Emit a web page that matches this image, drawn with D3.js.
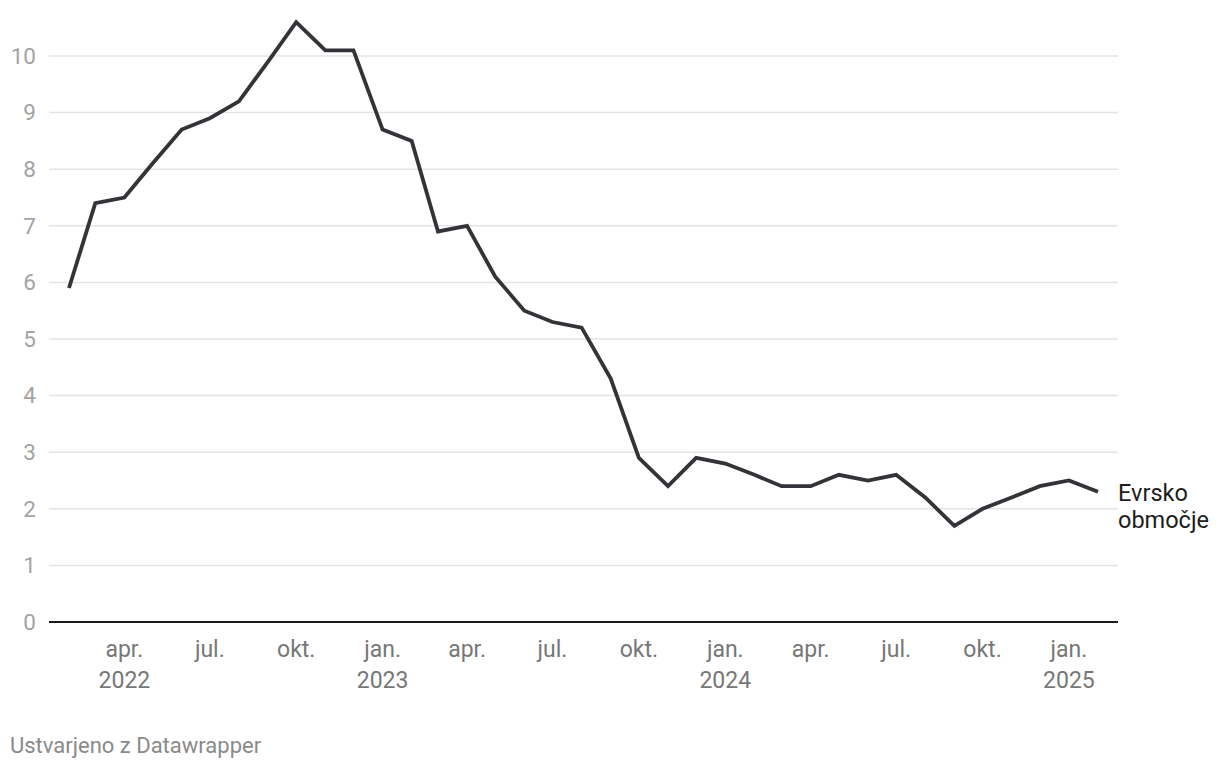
<!DOCTYPE html>
<html>
<head>
<meta charset="utf-8">
<script src="https://cdn.jsdelivr.net/npm/d3@7"></script>
<style>
  body { margin: 0; background: #fff; font-family: Roboto, "Noto Sans", sans-serif; }
</style>
</head>
<body>
<div id="viz"></div>
<script>
// monthly values, Feb 2022 - Feb 2025
var months = ["2022-02","2022-03","2022-04","2022-05","2022-06","2022-07","2022-08","2022-09","2022-10","2022-11","2022-12",
              "2023-01","2023-02","2023-03","2023-04","2023-05","2023-06","2023-07","2023-08","2023-09","2023-10","2023-11","2023-12",
              "2024-01","2024-02","2024-03","2024-04","2024-05","2024-06","2024-07","2024-08","2024-09","2024-10","2024-11","2024-12",
              "2025-01","2025-02"];
var values = [5.9, 7.4, 7.5, 8.1, 8.7, 8.9, 9.2, 9.9, 10.6, 10.1, 10.1,
              8.7, 8.5, 6.9, 7.0, 6.1, 5.5, 5.3, 5.2, 4.3, 2.9, 2.4, 2.9,
              2.8, 2.6, 2.4, 2.4, 2.6, 2.5, 2.6, 2.2, 1.7, 2.0, 2.2, 2.4,
              2.5, 2.3];
var seriesName = ["Evrsko", "območje"];
var yTicks = [0, 1, 2, 3, 4, 5, 6, 7, 8, 9, 10];
var xTicks = ["2022-04","2022-07","2022-10","2023-01","2023-04","2023-07","2023-10","2024-01","2024-04","2024-07","2024-10","2025-01"];
var monthNames = {1: "jan.", 4: "apr.", 7: "jul.", 10: "okt."};
var credit = "Ustvarjeno z Datawrapper";

var W = 1220, H = 768;
var parse = d3.timeParse("%Y-%m");
var data = months.map(function(m, i) { return {date: parse(m), value: values[i]}; });

var svg = d3.select("#viz").append("svg")
  .attr("width", W)
  .attr("height", H);

var x = d3.scaleTime()
  .domain([parse("2022-02"), parse("2025-02")])
  .range([69, 1098]);

var y = d3.scaleLinear()
  .domain([0, 10])
  .range([622, 56]);

var gridLeft = 49, gridRight = 1118;

// gridlines
svg.append("g").selectAll("line")
  .data(yTicks.filter(function(d) { return d > 0; }))
  .join("line")
  .attr("x1", gridLeft).attr("x2", gridRight)
  .attr("y1", function(d) { return y(d); })
  .attr("y2", function(d) { return y(d); })
  .attr("stroke", "#e4e4e4")
  .attr("stroke-width", 1.5);

// y labels
svg.append("g").selectAll("text")
  .data(yTicks)
  .join("text")
  .attr("x", 36)
  .attr("y", function(d) { return y(d); })
  .attr("dy", "0.35em")
  .attr("text-anchor", "end")
  .attr("fill", "#a3a3a3")
  .style("font-size", "22.5px")
  .text(function(d) { return d; });

// baseline
svg.append("line")
  .attr("x1", gridLeft).attr("x2", gridRight)
  .attr("y1", y(0)).attr("y2", y(0))
  .attr("stroke", "#1a1a1a")
  .attr("stroke-width", 2);

// x labels
var xg = svg.append("g").selectAll("g")
  .data(xTicks.map(parse))
  .join("g")
  .attr("transform", function(d) { return "translate(" + x(d) + ",0)"; });

xg.append("text")
  .attr("y", 657)
  .attr("text-anchor", "middle")
  .attr("fill", "#777")
  .style("font-size", "23px")
  .text(function(d) { return monthNames[d.getMonth() + 1]; });

xg.filter(function(d, i) { return i === 0 || d.getMonth() === 0; })
  .append("text")
  .attr("y", 688)
  .attr("text-anchor", "middle")
  .attr("fill", "#777")
  .style("font-size", "23px")
  .text(function(d) { return d.getFullYear(); });

// the line
svg.append("path").datum(data)
  .attr("fill", "none")
  .attr("stroke", "#333338")
  .attr("stroke-width", 3.8)
  .attr("stroke-linejoin", "miter")
  .attr("d", d3.line()
    .x(function(d) { return x(d.date); })
    .y(function(d) { return y(d.value); }));

// series label
svg.append("g").selectAll("text")
  .data(seriesName)
  .join("text")
  .attr("x", 1118)
  .attr("y", function(d, i) { return 501 + i * 27; })
  .attr("fill", "#1d1d1d")
  .style("font-size", "23.5px")
  .text(function(d) { return d; });

// credit
svg.append("text")
  .attr("x", 10)
  .attr("y", 753)
  .attr("fill", "#8a8a8a")
  .style("font-size", "22px")
  .text(credit);
</script>
</body>
</html>
